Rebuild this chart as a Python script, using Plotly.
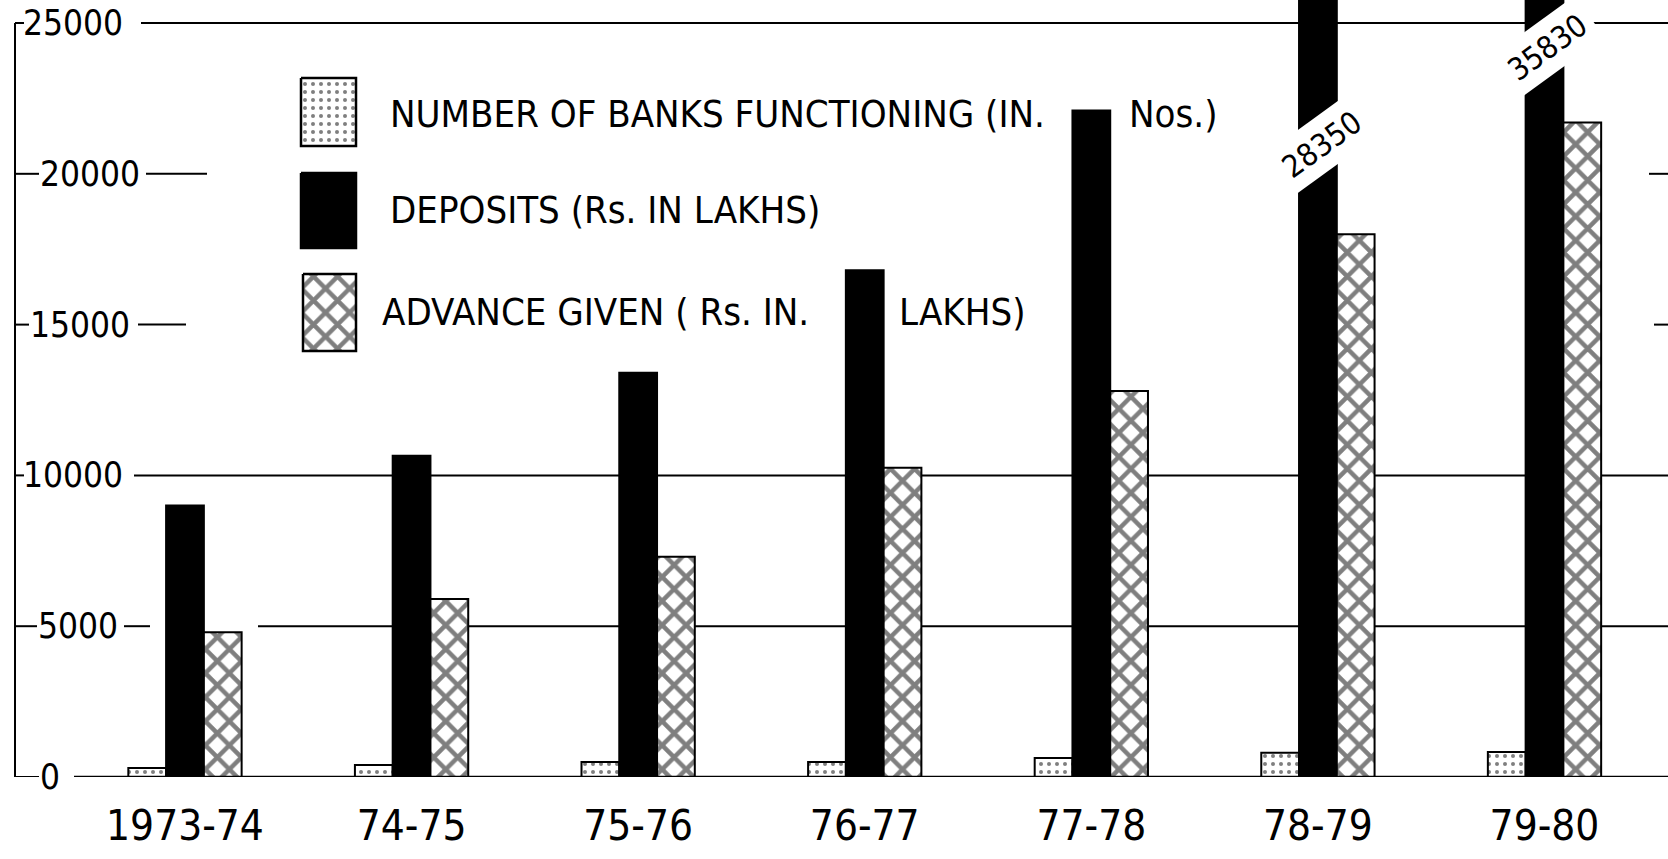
import plotly.graph_objects as go

# ---- data ----
years = ["1973-74", "74-75", "75-76", "76-77", "77-78", "78-79", "79-80"]
banks = [300, 400, 500, 500, 630, 800, 830]
deposits = [9000, 10650, 13400, 16800, 22100, 28350, 35830]
advances = [4800, 5900, 7300, 10250, 12800, 18000, 21700]
ytick_vals = [0, 5000, 10000, 15000, 20000, 25000]
ytick_text = ["0", "5000", "10000", "15000", "20000", "25000"]
legend_names = ["NUMBER OF BANKS FUNCTIONING (IN. Nos.)",
                "DEPOSITS (Rs. IN LAKHS)",
                "ADVANCE GIVEN ( Rs. IN. LAKHS)"]

FONT = "DejaVu Sans Condensed, Liberation Sans Narrow, Liberation Sans, sans-serif"
W, H = 1668, 859
L, B = 13, 82
YMAX = 25763

fig = go.Figure()

fig.add_trace(go.Bar(
    x=years, y=banks, name=legend_names[0], showlegend=False,
    marker=dict(color="white", line=dict(color="black", width=2),
                pattern=dict(shape=".", size=8, solidity=0.2, fgcolor="black", bgcolor="white")),
))
fig.add_trace(go.Bar(
    x=years, y=deposits, name=legend_names[1], showlegend=False,
    marker=dict(color="black", line=dict(color="black", width=2)),
))
fig.add_trace(go.Bar(
    x=years, y=advances, name=legend_names[2], showlegend=False,
    marker=dict(color="white", line=dict(color="black", width=2),
                pattern=dict(shape="x", size=17, solidity=0.46, fgcolor="black", bgcolor="white")),
))

# ---- hand-drawn style legend (swatches on a pixel overlay axis) ----
sw = [
    (301, 356, 78, 146, dict(shape=".", size=8, solidity=0.2), "white"),
    (301, 356, 173, 248, None, "black"),
    (303, 356, 274, 351, dict(shape="x", size=17, solidity=0.46), "white"),
]
for i, (x0, x1, y0, y1, pat, col) in enumerate(sw):
    kw = {}
    if pat:
        kw["fillpattern"] = dict(fgcolor="black", bgcolor="white", **pat)
    fig.add_trace(go.Scatter(
        x=[x0, x1, x1, x0, x0], y=[y0, y0, y1, y1, y0], xaxis="x2", yaxis="y2",
        mode="lines", fill="toself", fillcolor=col, line=dict(color="black", width=2.5),
        hoverinfo="skip", showlegend=False, name=legend_names[i], **kw))

leg_font = dict(family=FONT, size=38, color="black")
legend_texts = [
    ("NUMBER OF BANKS FUNCTIONING (IN.", 388, 114),
    ("Nos.)", 1127, 114),
    ("DEPOSITS (Rs. IN LAKHS)", 388, 210),
    ("ADVANCE GIVEN ( Rs. IN.", 380, 312),
    ("LAKHS)", 897, 312),
]
annotations = []
for t, x, y in legend_texts:
    annotations.append(dict(text=t, x=x, y=y, xref="x2", yref="y2", xanchor="left",
                            yanchor="middle", showarrow=False, font=leg_font))

# ---- y tick labels (drawn inside the plot, right of the axis) ----
label_x = {0: 38, 5000: 36, 10000: 21, 15000: 28, 20000: 38, 25000: 21}
for v, t in zip(ytick_vals, ytick_text):
    annotations.append(dict(text=t, x=label_x[v], y=v, xref="x2", yref="y",
                            xanchor="left", yanchor="middle", showarrow=False,
                            font=dict(family=FONT, size=35, color="black")))

# ---- break labels on the bars that exceed the axis ----
break_pos = {5: (21000, 4), 6: (24200, 3)}
for i, (ypos, xs) in break_pos.items():
    annotations.append(dict(text=str(deposits[i]), x=years[i], y=ypos, xref="x", yref="y",
                            showarrow=False, textangle=-36, bgcolor="white", borderpad=7,
                            xshift=xs, font=dict(family=FONT, size=31, color="black")))

# ---- reference lines (hand-drawn segments) ----
grid_segments = [
    (25000, 141, W), (20000, 146, 207), (20000, 1649, W),
    (15000, 138, 186), (15000, 1654, W),
    (10000, 134, W), (5000, 124, 150), (5000, 258, W),
]
shapes = []
for yv, x0, x1 in grid_segments:
    shapes.append(dict(type="line", xref="x2", yref="y", x0=x0, x1=x1, y0=yv, y1=yv,
                       line=dict(color="black", width=2), layer="below"))
# small ticks on the vertical axis
for v in ytick_vals:
    shapes.append(dict(type="line", xref="x2", yref="y", x0=15, x1=max(label_x[v] + 1, 24), y0=v, y1=v,
                       line=dict(color="black", width=2), layer="above"))
# baseline and vertical axis
shapes.append(dict(type="line", xref="x2", yref="y", x0=74, x1=W, y0=0, y1=0,
                   line=dict(color="black", width=2.5), layer="above"))
shapes.append(dict(type="line", xref="x2", yref="y", x0=15, x1=15, y0=0, y1=25000,
                   line=dict(color="black", width=2), layer="above"))

fig.update_layout(
    width=W, height=H,
    margin=dict(l=L, r=0, t=0, b=B),
    paper_bgcolor="white", plot_bgcolor="white",
    barmode="group", bargap=0.5, bargroupgap=0,
    showlegend=False,
    annotations=annotations, shapes=shapes,
    xaxis=dict(type="category", range=[-0.759, 6.545], showgrid=False, showline=False,
               zeroline=False, ticks="", ticklabelstandoff=20,
               tickfont=dict(family=FONT, size=42, color="black")),
    yaxis=dict(range=[0, YMAX], showticklabels=False, ticks="",
               showgrid=False, showline=False, zeroline=False),
    xaxis2=dict(overlaying="x", range=[L, W], visible=False, anchor="y2"),
    yaxis2=dict(overlaying="y", range=[H - B, 0], visible=False, anchor="x2"),
)

fig.write_html("out.html", config={"displayModeBar": False},
               post_script="document.body.style.margin='0';document.body.style.overflow='hidden';")
